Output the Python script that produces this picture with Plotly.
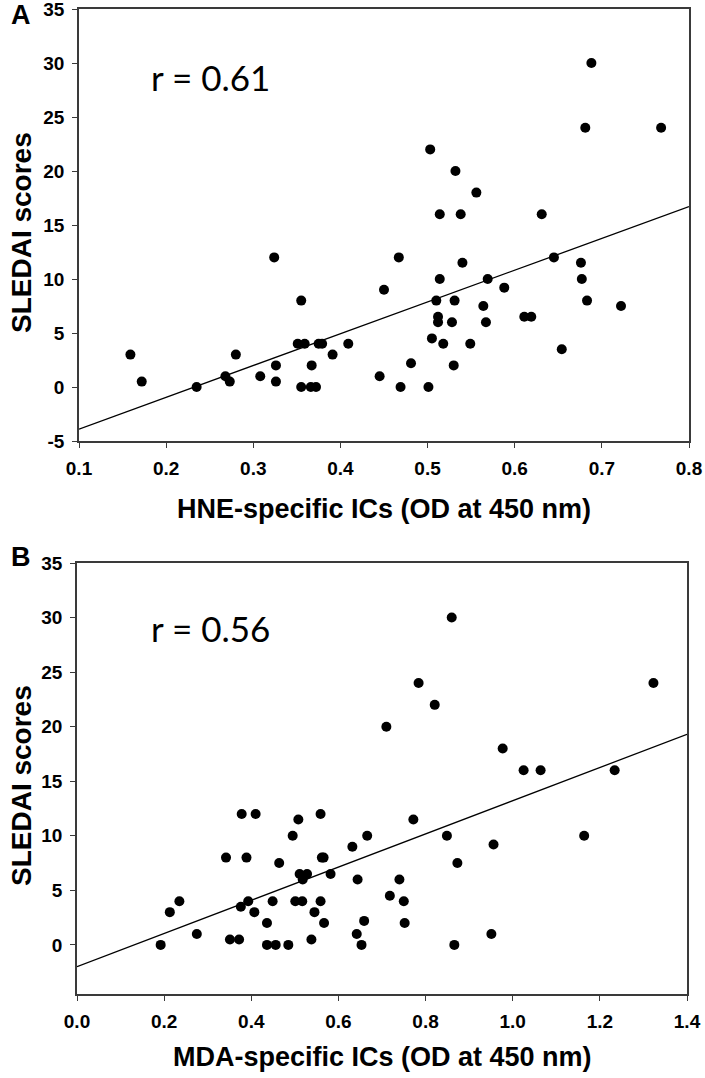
import plotly.graph_objects as go

# Panel A: HNE-specific ICs vs SLEDAI
hne_x = [0.159, 0.172, 0.235, 0.268, 0.273, 0.280, 0.308, 0.324, 0.326, 0.326,
         0.351, 0.355, 0.355, 0.359, 0.366, 0.367, 0.372, 0.375, 0.379, 0.391,
         0.409, 0.445, 0.450, 0.467, 0.469, 0.481, 0.501, 0.503, 0.505, 0.510,
         0.512, 0.512, 0.514, 0.514, 0.518, 0.528, 0.530, 0.531, 0.532, 0.538,
         0.540, 0.549, 0.556, 0.564, 0.567, 0.569, 0.588, 0.611, 0.619, 0.631,
         0.645, 0.654, 0.676, 0.677, 0.681, 0.683, 0.688, 0.722, 0.768]
hne_y = [3, 0.5, 0, 1, 0.5, 3, 1, 12, 2, 0.5,
         4, 8, 0, 4, 0, 2, 0, 4, 4, 3,
         4, 1, 9, 12, 0, 2.2, 0, 22, 4.5, 8,
         6.5, 6, 16, 10, 4, 6, 2, 8, 20, 16,
         11.5, 4, 18, 7.5, 6, 10, 9.2, 6.5, 6.5, 16,
         12, 3.5, 11.5, 10, 24, 8, 30, 7.5, 24]
fitA_x = [0.1, 0.8]
fitA_y = [-3.9, 16.7]

# Panel B: MDA-specific ICs vs SLEDAI
mda_x = [0.192, 0.213, 0.235, 0.275, 0.342, 0.351, 0.372, 0.376, 0.378, 0.389,
         0.393, 0.407, 0.410, 0.436, 0.436, 0.449, 0.456, 0.464, 0.485, 0.495,
         0.501, 0.508, 0.511, 0.517, 0.518, 0.528, 0.538, 0.545, 0.559, 0.559,
         0.562, 0.566, 0.567, 0.582, 0.632, 0.642, 0.644, 0.653, 0.659, 0.666,
         0.710, 0.718, 0.740, 0.750, 0.752, 0.772, 0.784, 0.821, 0.849, 0.860,
         0.866, 0.873, 0.951, 0.956, 0.977, 1.025, 1.064, 1.164, 1.234, 1.323]
mda_y = [0, 3, 4, 1, 8, 0.5, 0.5, 3.5, 12, 8,
         4, 3, 12, 2, 0, 4, 0, 7.5, 0, 10,
         4, 11.5, 6.5, 4, 6, 6.5, 0.5, 3, 4, 12,
         8, 8, 2, 6.5, 9, 1, 6, 0, 2.2, 10,
         20, 4.5, 6, 4, 2, 11.5, 24, 22, 10, 30,
         0, 7.5, 1, 9.2, 18, 16, 16, 10, 16, 24]
fitB_x = [0.0, 1.4]
fitB_y = [-2.0, 19.3]

ya_ticks = [-5, 0, 5, 10, 15, 20, 25, 30, 35]
yb_ticks = [0, 5, 10, 15, 20, 25, 30, 35]
xa_ticks = [0.1, 0.2, 0.3, 0.4, 0.5, 0.6, 0.7, 0.8]
xb_ticks = [0.0, 0.2, 0.4, 0.6, 0.8, 1.0, 1.2, 1.4]

W, H = 705, 1078
SANS = "Liberation Sans, Arial, sans-serif"
TICKFONT = dict(family=SANS, size=19, color="black")
TITLEFONT = dict(family=SANS, size=27, color="black")
YTITLEFONT = dict(family=SANS, size=28, color="black")
RFONT = dict(family="Lato, Open Sans", size=35, color="black")


def bold(vals, fmt):
    return ["<b>" + fmt.format(v) + "</b>" for v in vals]


fig = go.Figure()
marker = dict(color="black", size=10)
fig.add_trace(go.Scatter(x=hne_x, y=hne_y, mode="markers", marker=marker, xaxis="x", yaxis="y"))
fig.add_trace(go.Scatter(x=fitA_x, y=fitA_y, mode="lines", line=dict(color="black", width=1.3),
                         xaxis="x", yaxis="y"))
fig.add_trace(go.Scatter(x=mda_x, y=mda_y, mode="markers", marker=marker, xaxis="x2", yaxis="y2"))
fig.add_trace(go.Scatter(x=fitB_x, y=fitB_y, mode="lines", line=dict(color="black", width=1.3),
                         xaxis="x2", yaxis="y2"))

axis_common = dict(showgrid=False, zeroline=False, showline=True, linecolor="#3a3a3a", linewidth=1.5,
                   mirror=True, ticks="outside", ticklen=5, tickcolor="#3a3a3a", tickwidth=1.2,
                   tickfont=TICKFONT, automargin=False, ticklabeloverflow="allow",
                   ticklabelstandoff=4)

A_top, A_bot = 9, 441
B_top, B_bot = 563, 994

fig.update_layout(
    width=W, height=H, margin=dict(l=0, r=0, t=0, b=0, autoexpand=False),
    paper_bgcolor="white", plot_bgcolor="white", showlegend=False,
    xaxis=dict(domain=[79 / W, 689 / W], range=[0.1, 0.8], tickvals=xa_ticks,
               ticktext=bold(xa_ticks, "{:.1f}"), anchor="y", **axis_common),
    yaxis=dict(domain=[1 - A_bot / H, 1 - A_top / H], range=[-5, 35], tickvals=ya_ticks,
               ticktext=bold(ya_ticks, "{:d}"), anchor="x", **axis_common),
    xaxis2=dict(domain=[77 / W, 687 / W], range=[0.0, 1.4], tickvals=xb_ticks,
                ticktext=bold(xb_ticks, "{:.1f}"), anchor="y2", **axis_common),
    yaxis2=dict(domain=[1 - B_bot / H, 1 - B_top / H], range=[-4.5, 35], tickvals=yb_ticks,
                ticktext=bold(yb_ticks, "{:d}"), anchor="x2", **axis_common),
)

# Axis titles
fig.add_annotation(x=384 / W, y=1 - 509 / H, xref="paper", yref="paper",
                   text="<b>HNE-specific ICs (OD at 450 nm)</b>", showarrow=False,
                   xanchor="center", yanchor="middle", font=TITLEFONT)
fig.add_annotation(x=382 / W, y=1 - 1057 / H, xref="paper", yref="paper",
                   text="<b>MDA-specific ICs (OD at 450 nm)</b>", showarrow=False,
                   xanchor="center", yanchor="middle", font=TITLEFONT)
fig.add_annotation(x=21 / W, y=1 - 233 / H, xref="paper", yref="paper",
                   text="<b>SLEDAI scores</b>", showarrow=False, textangle=-90,
                   xanchor="center", yanchor="middle", font=YTITLEFONT)
fig.add_annotation(x=21 / W, y=1 - 786 / H, xref="paper", yref="paper",
                   text="<b>SLEDAI scores</b>", showarrow=False, textangle=-90,
                   xanchor="center", yanchor="middle", font=YTITLEFONT)

# Correlation labels
fig.add_annotation(x=0.1, y=28.7, xref="x", yref="y", text="r = 0.61", showarrow=False,
                   xanchor="left", yanchor="middle", xshift=70, font=RFONT)
fig.add_annotation(x=0.0, y=29.0, xref="x2", yref="y2", text="r = 0.56", showarrow=False,
                   xanchor="left", yanchor="middle", xshift=72, font=RFONT)

# Panel letters
fig.add_annotation(x=21 / W, y=1 - 15 / H, xref="paper", yref="paper", text="<b>A</b>", showarrow=False,
                   xanchor="center", yanchor="middle", font=dict(family=SANS, size=27, color="black"))
fig.add_annotation(x=21 / W, y=1 - 557 / H, xref="paper", yref="paper", text="<b>B</b>", showarrow=False,
                   xanchor="center", yanchor="middle", font=dict(family=SANS, size=27, color="black"))

fig.write_html("out.html", config={"displayModeBar": False},
               post_script="document.body.style.margin='0';")
